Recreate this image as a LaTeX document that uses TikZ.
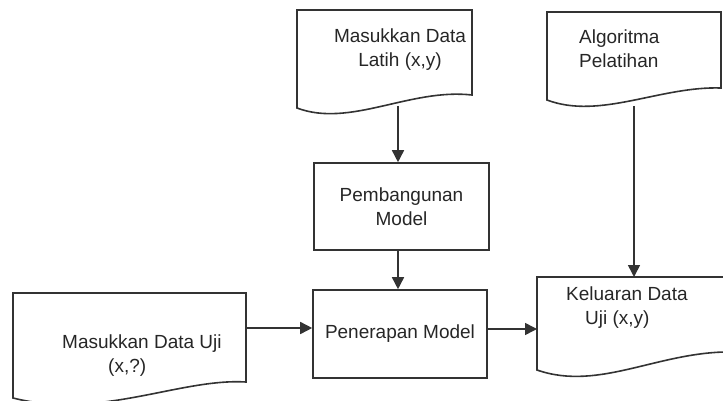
\documentclass[tikz,border=0pt]{standalone}
\usepackage{fontspec}
\setmainfont{Liberation Sans}
\usetikzlibrary{arrows.meta}
\begin{document}
\begin{tikzpicture}[x=1pt,y=-1pt,
  line/.style={draw=black!80, line width=1.6pt},
  arr/.style={line, -{Triangle[length=12pt,width=12pt]}},
  boxnode/.style={line, rectangle, inner sep=0pt},
  txt/.style={font=\fontsize{19}{24}\selectfont, text=black!85, inner sep=0pt}]
\useasboundingbox (0,0) rectangle (723,401);
\clip (0,0) rectangle (723,401);
% documents
\draw[line] (297,108) -- (297,10) -- (472,10) -- (472,95)
  .. controls (410,88) and (350,128) .. (297,108) -- cycle;
\draw[line] (547,100) -- (547,12) -- (721,12) -- (721,88)
  .. controls (660,86) and (600,120) .. (547,100) -- cycle;
\draw[line] (537,370) -- (537,277) -- (735,277) -- (735,352)
  .. controls (660,350) and (600,392) .. (537,370) -- cycle;
\draw[line] (13,398) -- (13,293) -- (246,293) -- (246,382)
  .. controls (180,378) and (100,420) .. (13,398) -- cycle;
% anchors on wave edges
\coordinate (d1) at (398,106);
\coordinate (d2) at (634,106);
% text nodes
\node[txt, align=center] (latih) at (400,50) {Masukkan Data\\Latih (x,y)};
\node[txt, align=left, anchor=west] (algo) at (579,49) {Algoritma\\Pelatihan};
\node[txt, align=left, anchor=west] (kel) at (566,308) {Keluaran Data\\\hspace*{19pt}Uji (x,y)};
\node[txt, align=left, anchor=west] (uji) at (62,356) {Masukkan Data Uji\\\hspace*{46pt}(x,?)};
% anchors for doc edges
\coordinate (ujiR) at (246,328);
\coordinate (kelL) at (537,329);
\coordinate (kelT) at (634,277);
% process boxes
\node[boxnode, minimum width=175pt, minimum height=87pt, txt, align=center] (pb) at (401.5,206.5) {Pembangunan\\Model};
\node[boxnode, minimum width=174pt, minimum height=88pt, txt] (pn) at (400,334) {Penerapan Model};
% connectors
\draw[arr] (d1) -- (d1 |- pb.north);
\draw[arr] (pb.south -| d1) -- (pn.north -| d1);
\draw[arr] (ujiR) -- (ujiR -| pn.west);
\draw[arr] (kelL -| pn.east) -- (kelL);
\draw[arr] (d2) -- (kelT);
\end{tikzpicture}
\end{document}
